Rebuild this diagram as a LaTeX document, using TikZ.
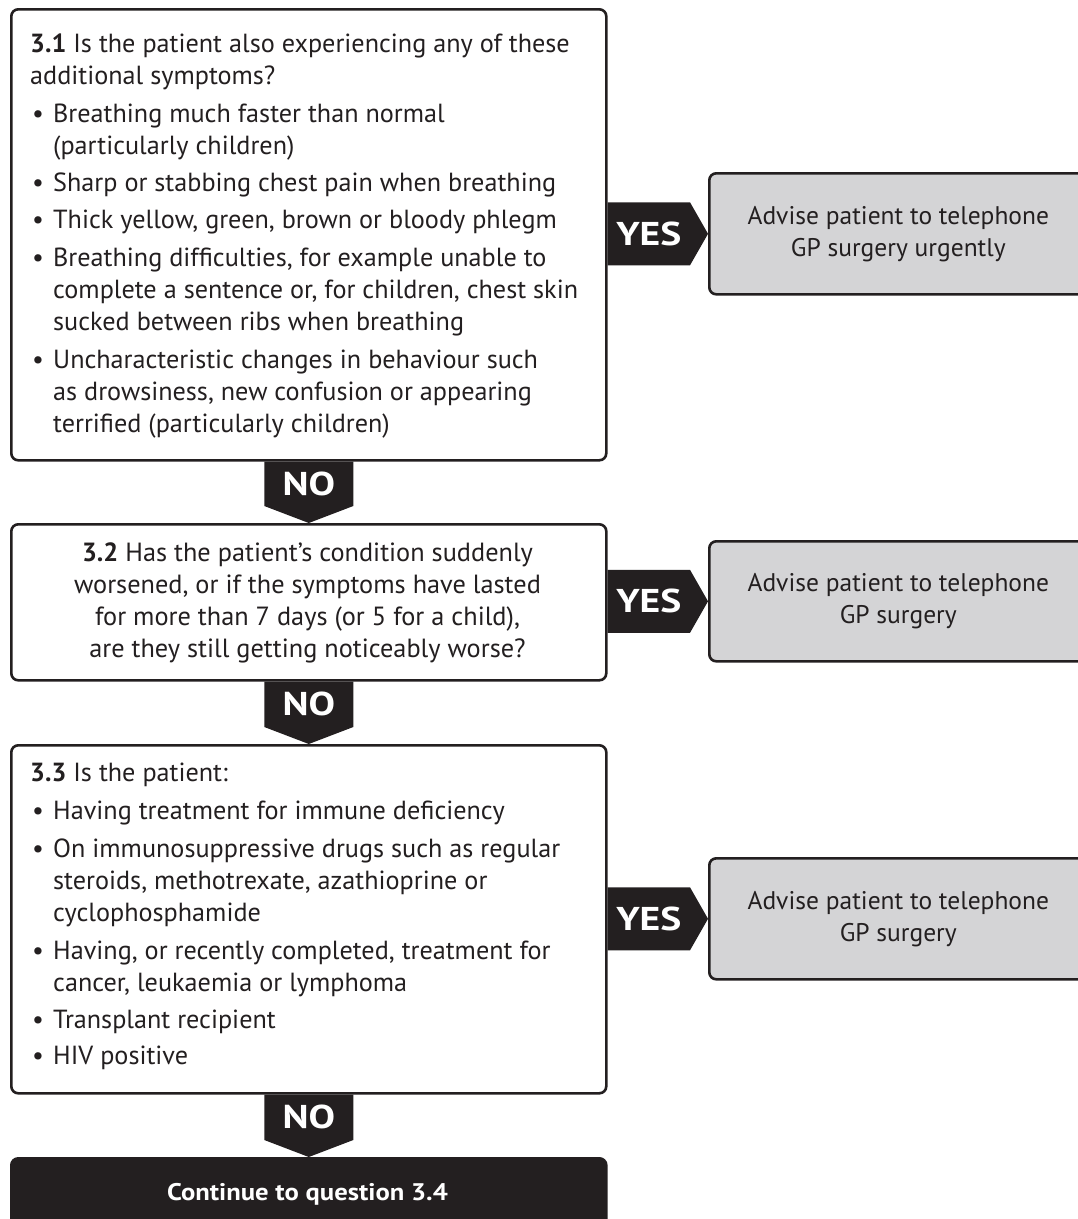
\documentclass[tikz,border=0pt]{standalone}
\usepackage{fontspec}
\usepackage{graphicx}
\setmainfont{PT Sans}
\usetikzlibrary{calc}
\definecolor{ink}{RGB}{35,31,32}
\definecolor{advgray}{RGB}{212,212,214}
\newcommand\bul{\makebox[23pt][l]{\hspace{2pt}\textbullet}}
\newcommand\ind{\hspace*{23pt}}
\newcommand\wide[2]{\scalebox{#1}[1]{#2}}
\begin{document}
\begin{tikzpicture}[x=1pt,y=-1pt,
  qbox/.style={draw=ink, line width=2.6pt, rounded corners=7pt, fill=white,
    minimum width=595pt, inner sep=0pt, anchor=north west},
  abox/.style={draw=ink, line width=2.6pt, rounded corners=7pt, fill=advgray,
    minimum width=400pt, inner sep=0pt, anchor=north west},
  endbox/.style={draw=ink, line width=2.6pt, rounded corners=7pt, fill=ink,
    minimum width=595pt, minimum height=90pt, inner sep=0pt, anchor=north west},
  qtext/.style={anchor=base west, inner sep=0pt, align=left, text=ink,
    font=\fontsize{26.2}{32}\selectfont},
  ctext/.style={anchor=base, inner sep=0pt, align=center, text=ink,
    font=\fontsize{26.3}{32}\selectfont},
  atext/.style={inner sep=0pt, align=center, text=ink,
    font=\fontsize{25.5}{32}\selectfont},
  tag/.style={fill=ink, draw=none},
  tagtext/.style={text=white, inner sep=0pt, font=\fontsize{33}{33}\selectfont\bfseries},
  endtext/.style={text=white, inner sep=0pt, anchor=base, font=\fontsize{24}{28}\selectfont\bfseries}
]
\clip (0,0) rectangle (1078,1219);
\useasboundingbox (0,0) rectangle (1078,1219);

% question boxes
\node[qbox, minimum height=451pt] (q1) at (10,8) {};
\node[qbox, minimum height=156pt] (q2) at (10,523) {};
\node[qbox, minimum height=348pt] (q3) at (10,744) {};
\node[endbox] (q4) at (10,1157) {};

% advice boxes
\node[abox, minimum height=121pt] (a1) at (708,172) {};
\node[abox, minimum height=120pt] (a2) at (708,540) {};
\node[abox, minimum height=121pt] (a3) at (708,857) {};

% question texts (anchored on the baseline of their last line)
\node[qtext] (t1) at (30,432) {\textbf{3.1} Is the patient also experiencing any of these\\
additional symptoms?\\[6pt]
\bul Breathing much faster than normal\\
\ind(particularly children)\\[5pt]
\bul Sharp or stabbing chest pain when breathing\\[5pt]
\bul Thick yellow, green, brown or bloody phlegm\\[6pt]
\bul Breathing difficulties, for example unable to\\
\ind complete a sentence or, for children, chest skin\\
\ind sucked between ribs when breathing\\[6pt]
\bul Uncharacteristic changes in behaviour such\\
\ind as drowsiness, new confusion or appearing\\
\ind terrified (particularly children)};

\node[ctext] (t2) at (307.5,657) {\textbf{3.2} Has the patient’s condition suddenly\\
worsened, or if the symptoms have lasted\\
for more than 7 days (or 5 for a child),\\
are they still getting noticeably worse?};

\node[qtext] (t3) at (30,1064) {\textbf{3.3} Is the patient:\\[6pt]
\bul Having treatment for immune deficiency\\[6pt]
\bul On immunosuppressive drugs such as regular\\
\ind steroids, methotrexate, azathioprine or\\
\ind cyclophosphamide\\[6pt]
\bul Having, or recently completed, treatment for\\
\ind cancer, leukaemia or lymphoma\\[5pt]
\bul Transplant recipient\\[4pt]
\bul HIV positive};

\node[endtext] (t4) at (307.5,1200) {\wide{1.11}{Continue to question 3.4}};

% advice texts
\node[atext] at ($(a1.center)+(-11,0)$) {Advise patient to telephone\\GP surgery urgently};
\node[atext] at ($(a2.center)+(-11,0)$) {Advise patient to telephone\\GP surgery};
\node[atext] at ($(a3.center)+(-11,0)$) {Advise patient to telephone\\GP surgery};

% YES tags: from a question box to its advice box
\foreach \q/\a in {q1/a1, q2/a2, q3/a3}{
  \path (\a.west) ++(-18,-31.5) coordinate (\a-up) ++(0,63) coordinate (\a-dn);
  \fill[tag] (\a.west) -- (\a-up) -- (\q.east |- \a-up) -- (\q.east |- \a-dn)
    -- (\a-dn) -- cycle;
  \node[tagtext] at ($(\q.east |- \a.west)!0.5!(\a-up |- \a.west)$) {\wide{1.2}{YES}};
}

% NO tags: from a question box down to the next one
\foreach \q/\n in {q1/q2, q2/q3, q3/q4}{
  \path (\n.north) ++(-44.5,-17) coordinate (\n-l) ++(89,0) coordinate (\n-r);
  \fill[tag] (\n.north) -- (\n-l) -- (\n-l |- \q.south) -- (\n-r |- \q.south)
    -- (\n-r) -- cycle;
  \node[tagtext] at ($(\n-l |- \q.south)!0.5!(\n-r)$) {\wide{1.2}{NO}};
}
\end{tikzpicture}
\end{document}
